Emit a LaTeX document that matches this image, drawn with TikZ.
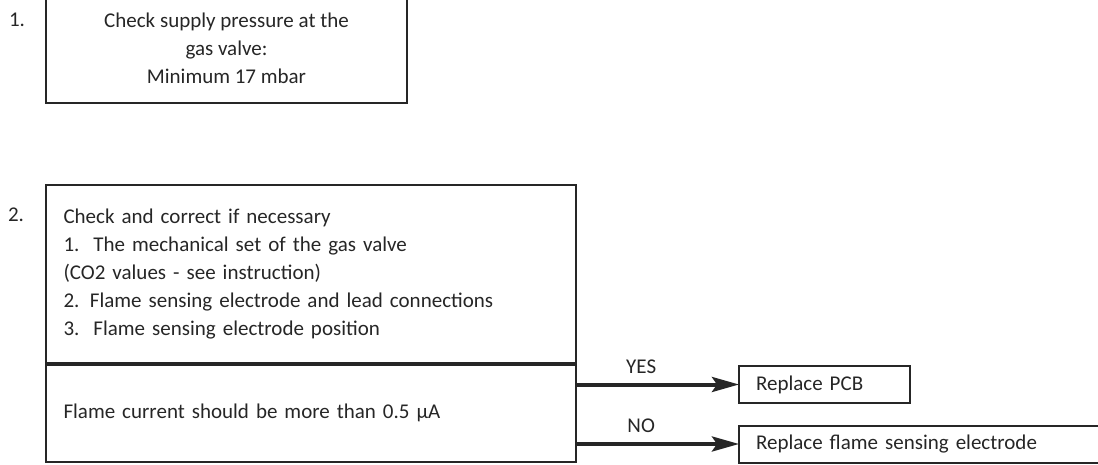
\documentclass[tikz,border=0pt]{standalone}
\usepackage{fontspec}
\setmainfont{Carlito}
\usetikzlibrary{arrows.meta, positioning}

\begin{document}
\begin{tikzpicture}[
    x=1pt, y=-1pt,
    node distance=0pt,
    font=\fontsize{21}{28}\selectfont,
    %% ── Box styles ────────────────────────────────────────────
    stepbox/.style={
        rectangle,
        draw=black!85, line width=2pt, outer sep=0pt,
        text=black!85
    },
    gasbox/.style={
        stepbox,
        minimum width=361pt, minimum height=110pt,
        align=center
    },
    checkbox/.style={
        stepbox,
        text width=495pt, inner xsep=17.5pt, inner ysep=0pt,
        minimum height=179pt,
        align=left
    },
    currentbox/.style={
        checkbox,
        minimum height=98pt
    },
    resultbox/.style={
        stepbox,
        inner xsep=17pt, inner ysep=0pt,
        minimum height=37pt,
        align=left
    },
    numlabel/.style={text=black!85},
    answer/.style={text=black!85, inner sep=0pt, above=9pt},
    divider/.style={line width=4pt, draw=black!85},
    arrow/.style={line width=4pt, draw=black!85,
        -{Stealth[length=27pt, width=15pt, inset=5pt]}}
]
\useasboundingbox (0,0) rectangle (1098,465);

%% ── Nodes ──────────────────────────────────────────────────────
\node (gas)       [gasbox, anchor=north west] at (46,-7)
    {Check supply pressure at the\\gas valve:\\Minimum 17 mbar};
\node (check)     [checkbox, below=82pt of gas.south west, anchor=north west]
    {Check and correct if necessary\\
     1.\ \ The mechanical set of the gas valve\\
     (CO2 values - see instruction)\\
     2. Flame sensing electrode and lead connections\\
     3.\ \ Flame sensing electrode position};
\node (current)   [currentbox, below=of check]
    {Flame current should be more than 0.5 µA};
\node (pcb)       [resultbox, text width=137pt, anchor=west] at (739,384.5)
    {Replace PCB};
\node (electrode) [resultbox, text width=380pt, anchor=west] at (739,444)
    {Replace flame sensing electrode};
\node (num1)      [numlabel] at (17,20) {1.};
\node (num2)      [numlabel] at (16,215) {2.};

%% ── Divider and outcome arrows ─────────────────────────────────
\draw [divider] (check.south west) -- (check.south east);
\draw [arrow] (current.east |- pcb.west)
    -- node[answer, pos=0.4] {YES} (pcb.west);
\draw [arrow] (current.east |- electrode.west)
    -- node[answer, pos=0.4] {NO} (electrode.west);

\end{tikzpicture}
\end{document}
